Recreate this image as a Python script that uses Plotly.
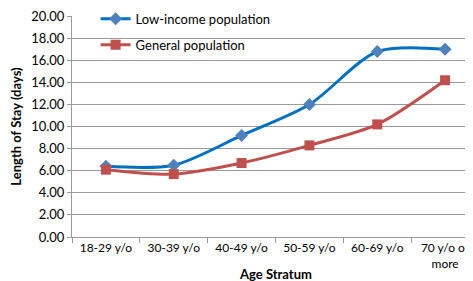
import plotly.graph_objects as go

categories = ["18-29 y/o", "30-39 y/o", "40-49 y/o", "50-59 y/o", "60-69 y/o", "70 y/o or<br>more"]
low_income = [6.4, 6.5, 9.2, 12.0, 16.8, 17.0]
general = [6.1, 5.7, 6.7, 8.3, 10.2, 14.2]
y_ticks = [0, 2, 4, 6, 8, 10, 12, 14, 16, 18, 20]

FONT = "Lato, Open Sans, sans-serif"
GRID = "#9A9A9A"

fig = go.Figure()
fig.add_trace(go.Scatter(
    x=list(range(len(categories))), y=low_income, name="Low-income population",
    mode="lines+markers", line=dict(color="#0070C0", width=3, shape="spline", smoothing=0.8),
    marker=dict(symbol="diamond", size=10, color="#4F81BD"), legendgroup="a"))
fig.add_trace(go.Scatter(
    x=list(range(len(categories))), y=general, name="General population",
    mode="lines+markers", line=dict(color="#C0504D", width=3, shape="spline", smoothing=0.8),
    marker=dict(symbol="square", size=10, color="#C0504D"), legendgroup="b"))

fig.update_layout(
    width=473, height=281,
    margin=dict(l=64, r=2, t=8, b=52, autoexpand=False),
    paper_bgcolor="white", plot_bgcolor="white",
    font=dict(family=FONT, size=12, color="black"),
    showlegend=True,
    legend=dict(x=0.058, y=1.055, xanchor="left", yanchor="top", bgcolor="rgba(0,0,0,0)",
                font=dict(size=13), tracegroupgap=6, itemwidth=30),
    annotations=[dict(text="<b>Age Stratum</b>", x=0.5, y=0, xref="paper", yref="paper",
                      xanchor="center", yanchor="middle", yshift=-37, showarrow=False,
                      font=dict(size=13))],
)
fig.update_xaxes(
    range=[-0.5, 5.5], tickmode="array", tickvals=list(range(len(categories))), ticktext=categories,
    showgrid=False, showline=True, linecolor=GRID, linewidth=1,
    ticks="", zeroline=False, tickfont=dict(size=12), automargin=False,
)
fig.update_xaxes(minor=dict(tickvals=[i - 0.5 for i in range(len(categories) + 1)], ticks="outside",
                            ticklen=5, tickcolor=GRID, showgrid=False))
fig.update_yaxes(
    range=[0, 20.02], tickmode="array", tickvals=y_ticks, ticktext=[f"{v:.2f}" for v in y_ticks],
    showgrid=True, gridcolor=GRID, gridwidth=1, ticklabeloverflow="allow",
    showline=True, linecolor=GRID, linewidth=1, ticks="outside", ticklen=4, tickcolor=GRID,
    zeroline=False, tickfont=dict(size=13), automargin=False,
    title=dict(text="<b>Length of Stay (days)</b>", font=dict(size=13), standoff=14),
)

fig.write_html("out.html")
